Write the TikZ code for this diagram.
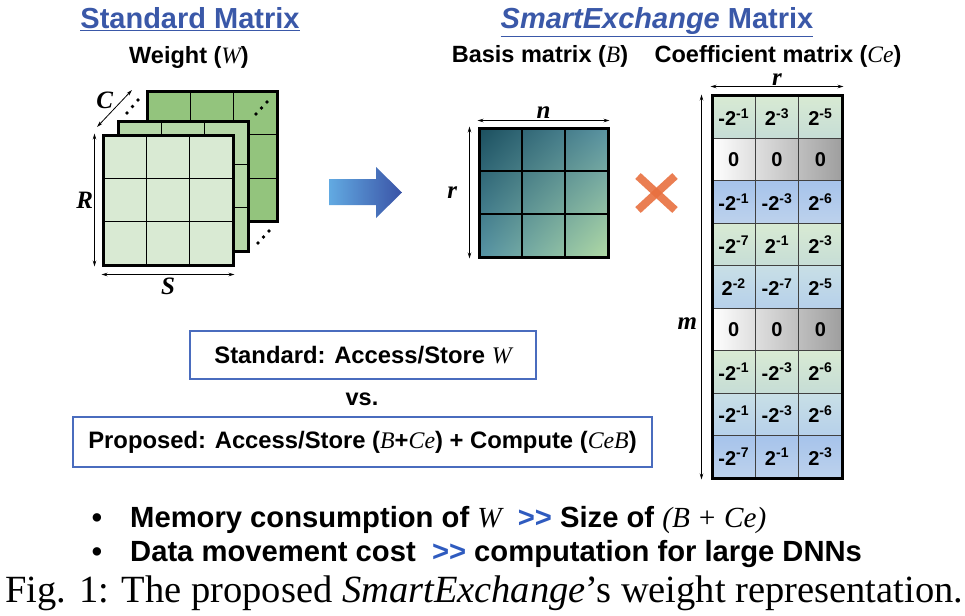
\documentclass[tikz,border=0pt]{standalone}
\usepackage{fontspec}
\setmainfont{Liberation Serif}
\setsansfont{Liberation Sans}
\usetikzlibrary{arrows.meta,positioning,calc,shadings}

\definecolor{titleblue}{HTML}{3A58A8}
\definecolor{boxblue}{HTML}{4A6CBE}
\definecolor{gtblue}{HTML}{2F5BBF}
\definecolor{gdark}{HTML}{93C47D}
\definecolor{gmid}{HTML}{B6D7A8}
\definecolor{glight}{HTML}{D9EAD3}
\definecolor{arrlight}{HTML}{62AAE2}
\definecolor{arrdark}{HTML}{3A53A6}
\definecolor{xred}{HTML}{E8703F}
\definecolor{bul}{HTML}{1B4F5E}
\definecolor{bur}{HTML}{5A93A2}
\definecolor{bll}{HTML}{5592A4}
\definecolor{blr}{HTML}{B0D9A4}
\definecolor{cegreen}{HTML}{D8EAD3}
\definecolor{cegreenb}{HTML}{C6DDD6}
\definecolor{ceblue}{HTML}{A6C3EB}
\definecolor{cebluebb}{HTML}{BDD2EC}
\definecolor{celblue}{HTML}{C8DFE6}
\definecolor{celblueb}{HTML}{B6D0EA}

\newcommand{\pwr}[1]{2\textsuperscript{#1}}
\newcommand{\vit}[1]{{\rmfamily\mdseries\itshape #1}}
\newcommand{\muchmore}{\textcolor{gtblue}{\textgreater\kern0pt\textgreater}}

\begin{document}
\begin{tikzpicture}[x=1pt, y=-1pt,
    every node/.style={font=\sffamily\bfseries},
    mtitle/.style={text=titleblue, font=\sffamily\bfseries\fontsize{29}{34}\selectfont, anchor=base, inner sep=0pt},
    subtitle/.style={font=\sffamily\bfseries\fontsize{23.5}{28}\selectfont, anchor=base, inner sep=0pt},
    matbox/.style={rectangle, draw=black, line width=3pt, minimum width=130pt, minimum height=130pt, inner sep=0pt, grid3},
    grid3/.style={path picture={
        \foreach \k in {1,2} {
          \draw[line width=1.2pt] ($(path picture bounding box.north west)!\k/3!(path picture bounding box.north east)$) -- ($(path picture bounding box.south west)!\k/3!(path picture bounding box.south east)$);
          \draw[line width=1.2pt] ($(path picture bounding box.north west)!\k/3!(path picture bounding box.south west)$) -- ($(path picture bounding box.north east)!\k/3!(path picture bounding box.south east)$);
        }}},
    dimarrow/.style={{Stealth[length=6pt,width=3.5pt]}-{Stealth[length=6pt,width=3.5pt]}, line width=0.8pt},
    dimlabel/.style={font=\rmfamily\bfseries\itshape\fontsize{25}{30}\selectfont, inner sep=0pt},
    xmark/.style={draw=xred, line width=8pt, opacity=0.9},
    greenrow/.style={top color=cegreen, bottom color=cegreenb},
    bluerow/.style={top color=ceblue, bottom color=cebluebb},
    lbluerow/.style={top color=celblue, bottom color=celblueb},
    grayrow/.style={left color=white, right color=black!38},
    cegrid/.style={draw=black!75, line width=0.9pt},
    cell/.style={font=\sffamily\bfseries\fontsize{20}{22}\selectfont, inner sep=0pt},
    infobox/.style={rectangle, draw=boxblue, line width=1.5pt, font=\sffamily\bfseries\fontsize{23.8}{28}\selectfont},
    bullettext/.style={font=\sffamily\bfseries\fontsize{29.2}{32}\selectfont, anchor=base west, inner sep=0pt},
  ]
  \useasboundingbox (0,0) rectangle (965,615);

  % Titles
  \node[mtitle] (stdtitle) at (190,29) {\underline{Standard Matrix}};
  \node[mtitle] (smarttitle) at (657,29) {\underline{\textit{SmartExchange} Matrix}};
  \node[subtitle] (weight) at (189,64) {Weight (\vit{W})};
  \node[subtitle] (basistitle) at (540,63) {Basis matrix (\vit{B})};
  \node[subtitle] (coeftitle) at (778,63) {Coefficient matrix (\vit{Ce})};

  % Weight tensor (three stacked slices)
  \node[matbox, fill=gdark] (wback) at (212,156.5) {};
  \node[matbox, fill=gmid] (wmid) at (183,186) {};
  \node[matbox, fill=glight] (wfront) at (168,200) {};
  \fill (127,113) circle (1.8pt) (132.5,106.5) circle (1.8pt) (138,100) circle (1.8pt);
  \fill (256,114) circle (1.8pt) (261.5,108) circle (1.8pt) (267,102) circle (1.8pt);
  \fill (258,243) circle (1.8pt) (263.5,237) circle (1.8pt) (269,231) circle (1.8pt);
  \coordinate (ctop) at (132,90);
  \coordinate (cbot) at (97,127);
  \draw[dimarrow] (ctop) -- (cbot) node[dimlabel, pos=0.27, left=9pt] (clab) {C};
  \draw[dimarrow] ([xshift=-7pt]wfront.north west) -- ([xshift=-7pt]wfront.south west) node[dimlabel, midway, left=1pt] (rlab) {R};
  \draw[dimarrow] ([yshift=-8pt]wfront.south west) -- ([yshift=-8pt]wfront.south east) node[dimlabel, midway, below=3pt] (slab) {S};

  % Big arrow
  \shade[left color=arrlight, right color=arrdark] (329,179) -- (376,179) -- (376,167) -- (402,192.5) -- (376,218) -- (376,205) -- (329,205) -- cycle;

  % Basis matrix
  \node[matbox, minimum width=129pt, minimum height=129pt, upper left=bul, upper right=bur, lower left=bll, lower right=blr] (basis) at (543.5,192.5) {};
  \draw[dimarrow] ([yshift=6pt]basis.north west) -- ([yshift=6pt]basis.north east) node[dimlabel, midway, above=2pt] (nlab) {n};
  \draw[dimarrow] ([xshift=-8pt]basis.north west) -- ([xshift=-8pt]basis.south west) node[dimlabel, midway, left=12pt] (rblab) {r};

  % Multiplication sign
  \coordinate (xa) at (638,176);
  \coordinate (xb) at (675,210);
  \coordinate (xc) at (638,210);
  \coordinate (xd) at (675,176);
  \draw[xmark] (xa) -- (xb);
  \draw[xmark] (xc) -- (xd);

  % Coefficient matrix
  \foreach \i/\sty/\ca/\cb/\cc in {
      0/greenrow/{-\pwr{-1}}/{\pwr{-3}}/{\pwr{-5}},
      1/grayrow/0/0/0,
      2/bluerow/{-\pwr{-1}}/{-\pwr{-3}}/{\pwr{-6}},
      3/greenrow/{-\pwr{-7}}/{\pwr{-1}}/{\pwr{-3}},
      4/lbluerow/{\pwr{-2}}/{-\pwr{-7}}/{\pwr{-5}},
      5/grayrow/0/0/0,
      6/greenrow/{-\pwr{-1}}/{-\pwr{-3}}/{\pwr{-6}},
      7/lbluerow/{-\pwr{-1}}/{-\pwr{-3}}/{\pwr{-6}},
      8/bluerow/{-\pwr{-7}}/{\pwr{-1}}/{\pwr{-3}}} {
    \shade[\sty] (712,{96+42.44*\i}) rectangle (842,{96+42.44*(\i+1)});
    \node[cell] (ce-\i-1) at (733.7,{96+42.44*(\i+0.5)}) {\ca};
    \node[cell] (ce-\i-2) at (777,{96+42.44*(\i+0.5)}) {\cb};
    \node[cell] (ce-\i-3) at (820.3,{96+42.44*(\i+0.5)}) {\cc};
  }
  \foreach \k in {1,2}
    \draw[cegrid] ({712+43.33*\k},96) -- ({712+43.33*\k},478);
  \foreach \k in {1,...,8}
    \draw[cegrid] (712,{96+42.44*\k}) -- (842,{96+42.44*\k});
  \node[rectangle, draw=black, line width=3pt, minimum width=130pt, minimum height=382pt, inner sep=0pt] (coef) at (777,287) {};
  \draw[dimarrow] ([yshift=8pt]coef.north west) -- ([yshift=8pt]coef.north east) node[dimlabel, midway, above=0.5pt] (rclab) {r};
  \draw[dimarrow] ([xshift=-9pt]coef.north west) -- ([xshift=-9pt]coef.south west) node[dimlabel, pos=0.594, left=4pt] (mlab) {m};

  % Access comparison
  \node[infobox, minimum width=346pt, minimum height=48pt] (stdbox) at (363,355) {Standard: Access/Store \vit{W}};
  \node[subtitle] (vs) at (362,405) {vs.};
  \node[infobox, minimum width=579pt, minimum height=50pt] (propbox) at (362.5,442) {Proposed: Access/Store (\vit{B}+\vit{Ce}) + Compute (\vit{CeB})};

  % Bullets and caption
  \node[bullettext, anchor=base] (bul1) at (97,527) {\textbullet};
  \node[bullettext] (mem) at (130,527) {Memory consumption of \vit{W} \ \muchmore{} Size of \vit{(B + Ce)}};
  \node[bullettext, anchor=base] (bul2) at (97,561) {\textbullet};
  \node[bullettext] (data) at (130,561) {Data movement cost \ \muchmore{} computation for large DNNs};
  \node[anchor=base west, inner sep=0pt, font=\rmfamily\mdseries\fontsize{38.5}{42}\selectfont] (caption) at (5,602) {Fig. 1: The proposed \textit{SmartExchange}'s weight representation.};
\end{tikzpicture}
\end{document}
